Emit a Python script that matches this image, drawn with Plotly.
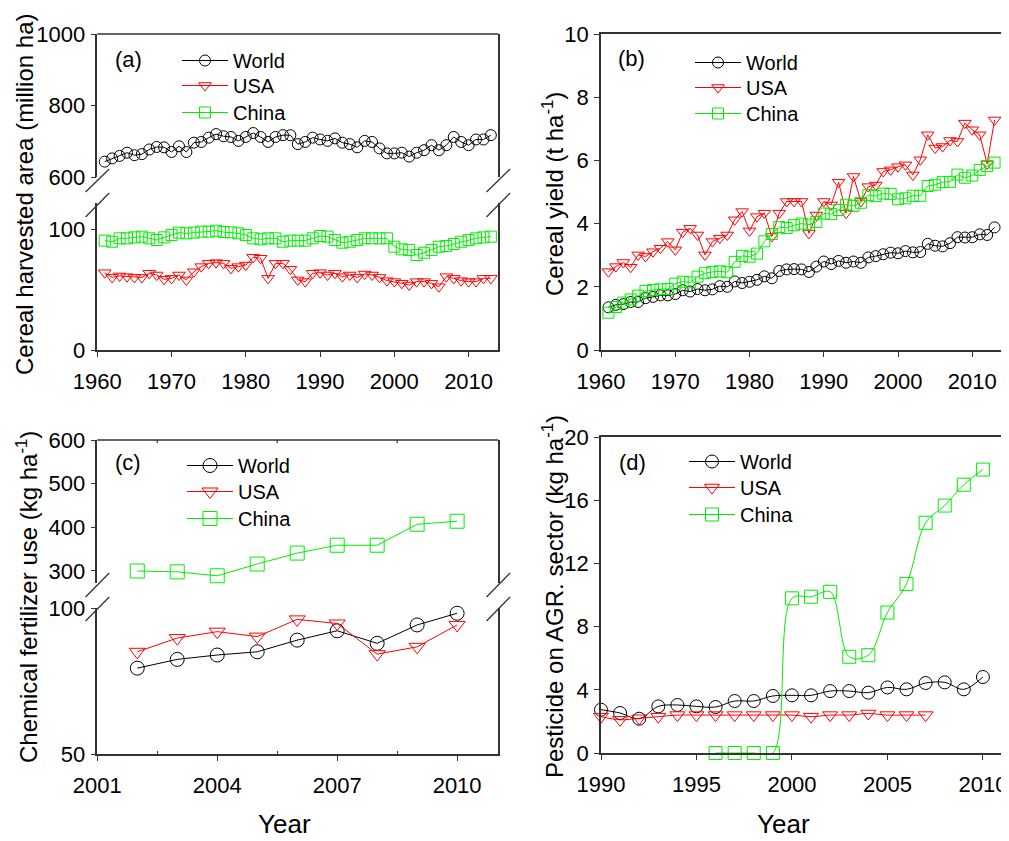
import plotly.graph_objects as go

# The page body has an 8px margin; all positions below are given in window pixels.
OFF = 8
W, H = 1009 - OFF, 841 - OFF
def px(x):
    return (x - OFF) / W
def py(y):
    return 1 - (y - OFF) / H

# ---------------- data ----------------
years_ab = list(range(1961, 2014))

world_area = [643, 652, 659, 668, 661, 664, 677, 684, 683, 670,
              686, 670, 696, 698, 710, 720, 714, 712, 701, 712,
              723, 712, 698, 712, 717, 717, 692, 698, 710, 705,
              701, 708, 696, 692, 683, 701, 698, 680, 666, 666,
              668, 657, 668, 675, 689, 675, 689, 712, 698, 689,
              705, 705, 717]
usa_area = [63.9, 60, 61.2, 60.6, 60, 60, 63.4, 62, 58.4, 59.2,
            62, 57.9, 64.7, 68.9, 71.6, 72.2, 71.6, 67.5, 68.9, 70.2,
            76.6, 75.8, 59.2, 71.6, 71.6, 66.7, 57.9, 56.5, 63.4, 63.9,
            62, 63.4, 60.6, 62, 60, 62.8, 62, 60, 57.3, 56.5,
            55.1, 53.7, 56.5, 56.5, 55.1, 52.3, 60.6, 59.2, 57.3, 56.5,
            56.5, 59.2, 59.2]
china_area = [90.4, 89.5, 92.3, 92.3, 93.1, 93.7, 92.3, 90.9, 93.1, 95,
              97, 96.4, 97, 97.8, 97.8, 98.6, 97.5, 97.2, 96.4, 95,
              92.3, 91.5, 92.3, 92.3, 89.5, 90.4, 90.4, 90.4, 92.3, 94.2,
              93.7, 90.9, 88.7, 89.5, 90.9, 92.3, 92.3, 92.3, 92.3, 85.4,
              83.2, 82.6, 78.5, 80.4, 82.6, 85.4, 86, 87.6, 89.5, 90.9,
              92.3, 93.1, 93.7]

world_yield = [1.35, 1.43, 1.45, 1.52, 1.52, 1.64, 1.68, 1.73, 1.73, 1.77,
               1.89, 1.85, 1.93, 1.89, 1.92, 2.02, 2.0, 2.17, 2.12, 2.16,
               2.22, 2.33, 2.27, 2.5, 2.55, 2.56, 2.55, 2.47, 2.64, 2.8,
               2.72, 2.82, 2.76, 2.8, 2.76, 2.93, 2.97, 3.03, 3.08, 3.06,
               3.13, 3.09, 3.1, 3.36, 3.3, 3.28, 3.38, 3.57, 3.56, 3.57,
               3.66, 3.64, 3.88]
usa_yield = [2.48, 2.64, 2.77, 2.62, 3.01, 2.96, 3.11, 3.22, 3.43, 3.17,
             3.73, 3.85, 3.64, 3.01, 3.43, 3.54, 3.64, 4.12, 4.38, 3.77,
             4.22, 4.33, 3.59, 4.33, 4.7, 4.7, 4.7, 3.69, 4.27, 4.7,
             4.59, 5.31, 4.33, 5.49, 4.7, 5.17, 5.22, 5.65, 5.7, 5.8,
             5.86, 5.54, 6.02, 6.81, 6.39, 6.44, 6.63, 6.6, 7.18, 6.97,
             6.81, 5.89, 7.28]
china_yield = [1.18, 1.36, 1.5, 1.6, 1.72, 1.87, 1.9, 1.92, 1.93, 2.1,
               2.16, 2.14, 2.32, 2.43, 2.47, 2.49, 2.46, 2.79, 2.98, 2.95,
               3.05, 3.44, 3.67, 3.89, 3.86, 3.95, 4.0, 3.97, 4.05, 4.32,
               4.3, 4.43, 4.6, 4.56, 4.66, 4.9, 4.87, 4.95, 4.94, 4.77,
               4.8, 4.88, 4.88, 5.19, 5.23, 5.31, 5.32, 5.55, 5.45, 5.52,
               5.7, 5.82, 5.93]

years_c = list(range(2002, 2011))
world_fert = [79.4, 82.4, 83.9, 85.0, 89.0, 92.2, 87.9, 94.2, 98.2]
usa_fert = [85.0, 89.7, 91.9, 90.2, 96.1, 94.7, 84.2, 86.7, 94.2]
china_fert = [300, 298, 289, 316, 341, 359, 359, 407, 414]

years_d_world = list(range(1990, 2011))
world_pest = [2.74, 2.53, 2.17, 2.95, 3.04, 2.95, 2.91, 3.29, 3.29, 3.61,
              3.65, 3.65, 3.92, 3.92, 3.82, 4.15, 4.03, 4.43, 4.47, 4.03, 4.81]
years_d_usa = list(range(1990, 2008))
usa_pest = [2.3, 2.1, 2.2, 2.3, 2.4, 2.4, 2.4, 2.4, 2.4, 2.4,
            2.4, 2.3, 2.4, 2.4, 2.5, 2.4, 2.4, 2.4]
years_d_china = list(range(1996, 2011))
china_pest = [0, 0, 0, 0, 9.79, 9.89, 10.2, 6.09, 6.19, 8.89,
              10.7, 14.57, 15.66, 16.98, 17.94]

# ---------------- styles ----------------
FONT = "Liberation Sans, Arial, sans-serif"
BLACK, RED, GREEN = "#000000", "#FF0000", "#00EE00"
AX = "#333333"
SYM = {"World": "circle-open", "USA": "triangle-down-open", "China": "square-open"}
COL = {"World": BLACK, "USA": RED, "China": GREEN}

fig = go.Figure()
legends = {}
legfont = dict(family=FONT, size=20, color="black")
ITEMW = 46

def add(name, x, y, xa, ya, size, leg_xy, shape="linear"):
    lid = "legend" if not legends else "legend%d" % (len(legends) + 1)
    mx, my = leg_xy
    legends[lid] = dict(x=px(mx - 20), y=py(my - 19), xanchor="left", yanchor="top", font=legfont,
                        bgcolor="rgba(0,0,0,0)", itemwidth=ITEMW, itemsizing="trace")
    fig.add_trace(go.Scatter(
        x=x, y=y, name=name, mode="lines+markers", xaxis=xa, yaxis=ya,
        legend=lid, showlegend=True, cliponaxis=False,
        line=dict(color=COL[name], width=1, shape=shape),
        marker=dict(symbol=SYM[name], size=size, color=COL[name],
                    line=dict(width=1, color=COL[name]))))

# panel a
add("World", years_ab, world_area, "x", "y2", 11, (197, 60))
add("USA", years_ab, usa_area, "x", "y", 11, (197, 85))
add("China", years_ab, china_area, "x", "y", 11, (197, 112))
# panel b
add("World", years_ab, world_yield, "x3", "y3", 11, (710, 62))
add("USA", years_ab, usa_yield, "x3", "y3", 11, (710, 87))
add("China", years_ab, china_yield, "x3", "y3", 11, (710, 113))
# panel c
add("World", years_c, world_fert, "x4", "y4", 14, (202, 465))
add("USA", years_c, usa_fert, "x4", "y4", 14, (202, 491))
add("China", years_c, china_fert, "x4", "y5", 14, (202, 518))
# panel d
add("World", years_d_world, world_pest, "x6", "y6", 13, (704, 461), "spline")
add("USA", years_d_usa, usa_pest, "x6", "y6", 13, (704, 487), "spline")
add("China", years_d_china, china_pest, "x6", "y6", 13, (704, 514), "spline")

tickfont = dict(family=FONT, size=22, color="black")
base = dict(showline=True, linecolor=AX, linewidth=1.5, ticks="outside", ticklen=5,
            tickwidth=1.2, tickcolor=AX, showgrid=False, zeroline=False,
            tickfont=tickfont, automargin=False)
xbase = dict(base, ticklabelstandoff=6)
ybase = dict(base, ticklabelstandoff=1)

xa_dom = [px(97.3), px(498.3)]
xb_dom = [px(601), px(1002)]
a_range = [1960, 2014]
c_range = [2001, 2011.03]
c_minor = [2002.5, 2005.5, 2008.5]

layout_axes = dict(
    xaxis=dict(xbase, domain=xa_dom, range=a_range, tickvals=[1960, 1970, 1980, 1990, 2000, 2010],
               anchor="y"),
    yaxis=dict(ybase, domain=[py(350), py(203)], range=[0, 121.5], tickvals=[0, 100], anchor="x", mirror=True),
    yaxis2=dict(ybase, domain=[py(177), py(34)], range=[600, 1000], tickvals=[600, 800, 1000], anchor="x",
                mirror=True),
    xaxis3=dict(xbase, domain=xb_dom, range=[1960, 2014], tickvals=[1960, 1970, 1980, 1990, 2000, 2010],
                anchor="y3", mirror=True),
    yaxis3=dict(ybase, domain=[py(350), py(34)], range=[0, 10], tickvals=[0, 2, 4, 6, 8, 10], anchor="x3",
                mirror=True),
    xaxis4=dict(xbase, domain=xa_dom, range=c_range, tickvals=[2001, 2004, 2007, 2010], anchor="y4",
                minor=dict(tickvals=c_minor, ticks="inside", ticklen=3, tickcolor=AX)),
    yaxis4=dict(ybase, domain=[py(754), py(608)], range=[50, 100], tickvals=[50, 100], anchor="x4", mirror=True),
    yaxis5=dict(ybase, domain=[py(583), py(440)], range=[272.5, 600], tickvals=[300, 400, 500, 600],
                anchor="x4", mirror=True),
    xaxis6=dict(xbase, domain=xb_dom, range=[1990, 2011], tickvals=[1990, 1995, 2000, 2005, 2010],
                anchor="y6", mirror=True),
    yaxis6=dict(ybase, domain=[py(753), py(437)], range=[0, 20], tickvals=[0, 4, 8, 12, 16, 20], anchor="x6",
                mirror=True),
)

shapes = []
# top frame lines of the broken-axis panels
for ytop in (34, 440):
    shapes.append(dict(type="line", xref="paper", yref="paper", x0=xa_dom[0], x1=xa_dom[1],
                       y0=py(ytop), y1=py(ytop), line=dict(color=AX, width=1.5)))
# small inside ticks on the top frame of panel (c)
for v in c_minor:
    shapes.append(dict(type="line", xref="x4", yref="paper", x0=v, x1=v,
                       y0=py(440), y1=py(443), line=dict(color=AX, width=1.2)))

# break marks
def slash(xc, y1, y2):
    shapes.append(dict(type="line", xref="paper", yref="paper",
                       x0=px(xc - 11.8), y0=py(y1), x1=px(xc + 11.8), y1=py(y2),
                       line=dict(color=AX, width=1.3)))
for xc in (97.4, 498.3):
    slash(xc, 192, 169)
    slash(xc, 217, 193)
    slash(xc, 597, 573)
    slash(xc, 621, 597)

ann = []
def text(x, y, s, size, angle=0, xanchor="center", yanchor="middle"):
    ann.append(dict(x=px(x), y=py(y), xref="paper", yref="paper", text=s, showarrow=False,
                    textangle=angle, xanchor=xanchor, yanchor=yanchor,
                    font=dict(family=FONT, size=size, color="black")))

text(113, 60, "(a)", 22, xanchor="left")
text(616, 59, "(b)", 22, xanchor="left")
text(113, 463, "(c)", 22, xanchor="left")
text(617, 462, "(d)", 22, xanchor="left")
text(24, 194, "Cereal harvested area (million ha)", 24, -90)
text(553, 194, "Cereal yield (t ha<sup>-1</sup>)", 24, -90)
text(27, 597, "Chemical fertilizer use (kg ha<sup>-1</sup>)", 24, -90)
text(553, 597, "Pesticide on AGR. sector (kg ha<sup>-1</sup>)", 24, -90)
text(284, 841, "Year", 26, yanchor="bottom")
text(783, 841, "Year", 26, yanchor="bottom")

fig.update_layout(
    width=W, height=H, margin=dict(l=0, r=0, t=0, b=0, autoexpand=False),
    paper_bgcolor="white", plot_bgcolor="rgba(0,0,0,0)", showlegend=True,
    font=dict(family=FONT, color="black"),
    shapes=shapes, annotations=ann, **legends, **layout_axes)

fig.write_html("out.html")
